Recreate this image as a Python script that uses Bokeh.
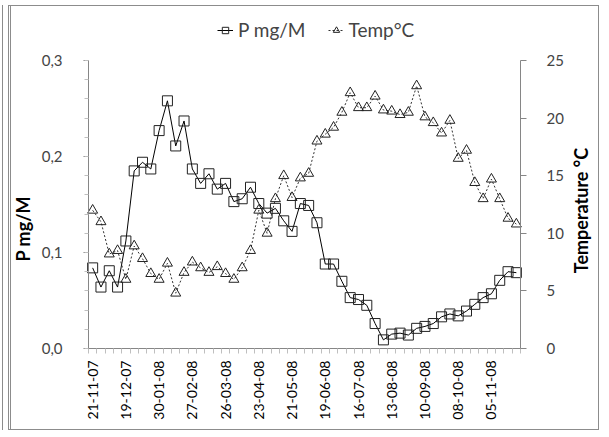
import math
from bokeh.plotting import figure
from bokeh.models import (Range1d, LinearAxis, FixedTicker, CustomJSTickFormatter,
                          Legend, LegendItem, Label)
from bokeh.embed import file_html
from bokeh.resources import INLINE

dates = ["21-11-07", "28-11-07", "05-12-07", "12-12-07", "19-12-07", "09-01-08", "16-01-08",
         "23-01-08", "30-01-08", "06-02-08", "13-02-08", "20-02-08", "27-02-08", "05-03-08",
         "12-03-08", "19-03-08", "26-03-08", "02-04-08", "09-04-08", "16-04-08", "23-04-08",
         "30-04-08", "07-05-08", "14-05-08", "21-05-08", "28-05-08", "04-06-08", "11-06-08",
         "19-06-08", "25-06-08", "02-07-08", "09-07-08", "16-07-08", "23-07-08", "30-07-08",
         "06-08-08", "13-08-08", "20-08-08", "27-08-08", "03-09-08", "10-09-08", "17-09-08",
         "24-09-08", "01-10-08", "08-10-08", "15-10-08", "22-10-08", "29-10-08", "05-11-08",
         "12-11-08", "19-11-08", "26-11-08"]

p_mg = [0.084, 0.064, 0.081, 0.064, 0.112, 0.185, 0.194, 0.187, 0.227, 0.258,
        0.211, 0.237, 0.187, 0.172, 0.182, 0.166, 0.172, 0.153, 0.156, 0.168,
        0.151, 0.141, 0.146, 0.133, 0.122, 0.151, 0.149, 0.131, 0.088, 0.088,
        0.070, 0.053, 0.051, 0.045, 0.026, 0.009, 0.015, 0.016, 0.014, 0.021,
        0.023, 0.026, 0.033, 0.036, 0.034, 0.039, 0.046, 0.053, 0.057, 0.071,
        0.080, 0.079]

temp = [12.0, 11.0, 8.2, 8.5, 6.0, 8.9, 7.8, 6.5, 6.0, 7.4,
        4.8, 6.6, 7.5, 7.0, 6.6, 7.1, 6.5, 6.0, 7.0, 8.5,
        12.0, 10.0, 13.0, 15.0, 13.1, 14.8, 15.2, 18.0, 18.6, 19.2,
        20.5, 22.2, 20.9, 20.9, 21.9, 20.7, 20.6, 20.3, 20.5, 22.8,
        20.1, 19.6, 18.7, 19.8, 16.5, 17.2, 14.4, 13.0, 14.7, 13.0,
        11.3, 10.8]

p_ticks = [0.0, 0.1, 0.2, 0.3]
p_max = 0.3
t_ticks = [0, 5, 10, 15, 20, 25]
t_max = 25
label_every = 4

n = len(dates)
x = list(range(n))
FONT = "Lato"
AXIS_C = "#868686"

# layout geometry (pixels): the frame covers the whole canvas, axes are pinned inside it
frame_l, frame_r, frame_t, frame_b = 13, 598, 16, 429
axis_l, axis_r, axis_t, axis_b = 88, 520, 60, 348
unit = (axis_r - axis_l) / n
x_start = -0.5 - (axis_l - frame_l) / unit
x_end = n - 0.5 + (frame_r - axis_r) / unit
py = (axis_b - axis_t) / p_max
ty = (axis_b - axis_t) / t_max

p = figure(width=591, height=425, output_backend="svg", toolbar_location=None,
           x_range=Range1d(x_start, x_end),
           y_range=Range1d(-(frame_b - axis_b) / py, p_max + (axis_t - frame_t) / py),
           min_border_left=2, min_border_right=4, min_border_top=10, min_border_bottom=2)
p.styles = {"margin-left": "8px", "margin-top": "5px",
            "border": "1px solid #8C8C8C", "border-left": "3px double #8C8C8C",
            "box-shadow": "-5px 0 0 0 white, -6px 0 0 0 #8C8C8C"}
p.outline_line_color = None
p.grid.visible = False
p.background_fill_color = "white"
p.border_fill_color = "white"
p.extra_y_ranges = {"temp": Range1d(-(frame_b - axis_b) / ty, t_max + (axis_t - frame_t) / ty)}

# x axis (pinned at zero)
xa = p.xaxis[0]
xa.fixed_location = 0
xa.bounds = (-0.5, n - 0.5)
xa.ticker = FixedTicker(ticks=x[::label_every], minor_ticks=[i - 0.5 for i in range(n + 1)])
xa.major_label_overrides = {i: dates[i] for i in x[::label_every]}
xa.major_label_orientation = math.pi / 2
xa.major_tick_line_color = None
xa.minor_tick_in = 0
xa.minor_tick_out = 5
xa.minor_tick_line_color = "#BFBFBF"
xa.axis_line_color = AXIS_C
xa.major_label_text_font = FONT
xa.major_label_text_font_size = "14px"
xa.major_label_standoff = 6
xa.major_label_text_color = "black"

# left axis (pinned at the first category boundary)
ya = p.yaxis[0]
ya.fixed_location = -0.5
ya.bounds = (0, p_max)
ya.ticker = FixedTicker(ticks=p_ticks, minor_ticks=[0.02 * k for k in range(16)])
ya.formatter = CustomJSTickFormatter(code="return tick.toFixed(1).replace('.', ',');")
ya.major_label_text_font = FONT
ya.major_label_text_font_size = "15px"
ya.major_label_standoff = 21
ya.major_tick_in = 0
ya.major_tick_out = 5
ya.minor_tick_in = 0
ya.minor_tick_out = 4
ya.axis_line_color = AXIS_C
ya.major_tick_line_color = AXIS_C
ya.minor_tick_line_color = "#BFBFBF"

# right axis (pinned at the last category boundary)
ra = LinearAxis(y_range_name="temp", ticker=FixedTicker(ticks=t_ticks, minor_ticks=[]),
                fixed_location=n - 0.5)
ra.bounds = (0, t_max)
ra.major_label_text_font = FONT
ra.major_label_text_font_size = "15px"
ra.major_label_standoff = 20
ra.major_tick_in = 0
ra.major_tick_out = 6
ra.axis_line_color = AXIS_C
ra.major_tick_line_color = AXIS_C
p.add_layout(ra, "right")

# axis titles
for txt, cx, cy in [("P  mg/M", 22, 226), ("Temperature °C", 580, 210)]:
    p.add_layout(Label(text=txt, x=cx - frame_l, y=frame_b - cy, x_units="screen", y_units="screen",
                       angle=math.pi / 2, text_align="center", text_baseline="middle", text_font=FONT,
                       text_font_size="18px", text_font_style="bold", text_color="black"))

# series
l1 = p.line(x, p_mg, line_color="black", line_width=1)
s1 = p.scatter(x, p_mg, marker="square", size=10, fill_color=None, line_color="#222222", line_width=1)
l2 = p.line(x, temp, y_range_name="temp", line_color="#333333", line_width=1, line_dash="2 2")
s2 = p.scatter(x, temp, y_range_name="temp", marker="triangle", size=10, fill_color=None,
               line_color="#222222", line_width=1)

legend = Legend(items=[LegendItem(label="P mg/M", renderers=[l1, s1]),
                       LegendItem(label="Temp°C", renderers=[l2, s2])],
                orientation="horizontal", location=(129 + axis_l - frame_l, frame_b - 41))
legend.border_line_color = None
legend.background_fill_alpha = 0
legend.label_text_font = FONT
legend.label_text_font_size = "19px"
legend.glyph_width = 16
legend.label_standoff = 5
legend.spacing = 22
legend.padding = 2
legend.margin = 0
p.add_layout(legend)

open("out.html", "w").write(file_html(p, INLINE))
